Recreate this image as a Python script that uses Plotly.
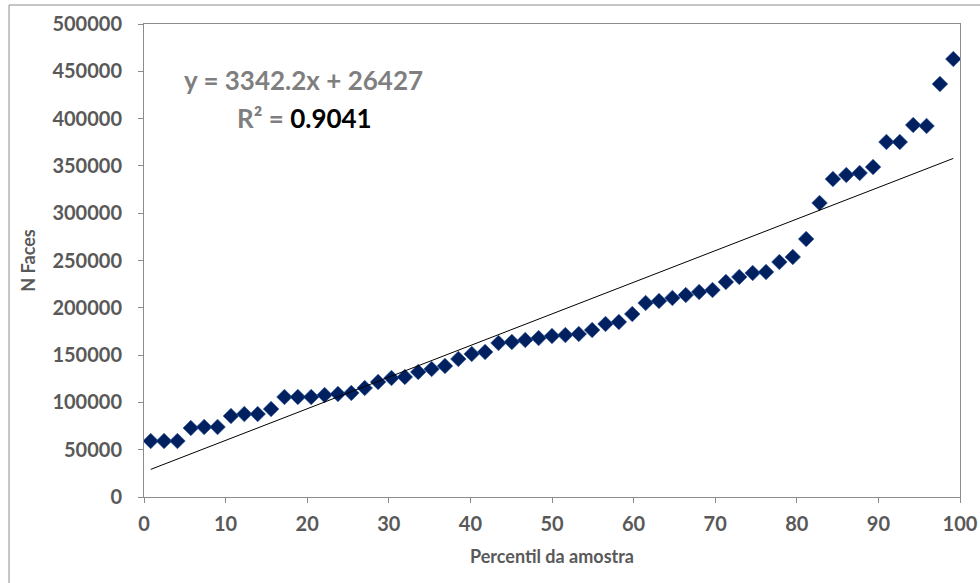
import numpy as np
import plotly.graph_objects as go

# Sample percentiles (61 ordered samples) and face counts
n_samples = 61
percentil = [(i + 0.5) / n_samples * 100 for i in range(n_samples)]
n_faces = [
    59200, 59200, 59200, 72900, 74000, 74000, 85600, 87700, 87700, 93000,
    105700, 105700, 105700, 107800, 108900, 110000, 115200, 121600, 125800, 126900,
    132100, 135300, 138500, 145900, 151200, 153300, 162800, 163900, 166000, 168000,
    170200, 171200, 172300, 176500, 182900, 185000, 193400, 205100, 207200, 210400,
    213500, 216700, 218800, 227300, 232600, 236800, 237800, 248400, 253700, 272700,
    310800, 336100, 340400, 342500, 348800, 375300, 375300, 393200, 392200, 436600,
    463000,
]

# Linear trend shown on the chart
slope = 3342.2
intercept = 26427
r_squared = 0.9041

x_ticks = list(range(0, 101, 10))
y_ticks = list(range(0, 500001, 50000))

FONT = "Lato"
GRAY = "#595959"
AXIS_GRAY = "#8c8c8c"

trend_x = [percentil[0], percentil[-1]]
trend_y = [slope * v + intercept for v in trend_x]

fig = go.Figure()
fig.add_trace(go.Scatter(
    x=percentil, y=n_faces, mode="markers",
    marker=dict(symbol="diamond", size=12, color="#002060",
                line=dict(width=0.6, color="#2a4f95")),
    showlegend=False, hoverinfo="x+y",
))
fig.add_trace(go.Scatter(
    x=trend_x, y=trend_y, mode="lines",
    line=dict(color="#000000", width=1),
    showlegend=False, hoverinfo="skip",
))

axis_common = dict(
    showgrid=False, zeroline=False, showline=True, linecolor=AXIS_GRAY,
    linewidth=1, mirror=True, ticks="outside", ticklen=5, tickcolor=AXIS_GRAY,
    automargin=False,
    tickfont=dict(family=FONT, size=20, color=GRAY, weight="bold"),
    title_font=dict(family=FONT, size=18, color=GRAY, weight="bold"),
)

fig.update_xaxes(
    range=[0, 100], tickvals=x_ticks, ticktext=[str(t) for t in x_ticks],
    ticklabelstandoff=4,
    title_text="Percentil da amostra", title_standoff=16, **axis_common,
)
fig.update_yaxes(
    range=[0, 500000], tickvals=y_ticks, ticktext=[str(t) for t in y_ticks],
    ticklabelstandoff=12,
    title_text="N Faces", title_standoff=12, **axis_common,
)

fig.add_annotation(
    xref="paper", yref="paper", x=0.196, y=0.8816,
    text="y = 3342.2x + 26427", showarrow=False,
    font=dict(family=FONT, size=26, color="#7f7f7f", weight="bold"),
    xanchor="center", yanchor="middle",
)
fig.add_annotation(
    xref="paper", yref="paper", x=0.197, y=0.8013,
    text=f"R² = <span style='color:#000000'>{r_squared:.4f}</span>",
    showarrow=False,
    font=dict(family=FONT, size=26, color="#7f7f7f", weight="bold"),
    xanchor="center", yanchor="middle",
)

# Chart-area border (top and left edges)
fig.add_shape(type="line", xref="paper", yref="paper",
              x0=-0.1654, x1=1.03, y0=1.0402, y1=1.0402,
              line=dict(color="#8c8c8c", width=1))
fig.add_shape(type="line", xref="paper", yref="paper",
              x0=-0.1654, x1=-0.1654, y0=1.0402, y1=-0.19,
              line=dict(color="#8c8c8c", width=1))

fig.update_layout(
    width=980, height=583,
    margin=dict(l=144, r=20, t=24, b=86),
    paper_bgcolor="white", plot_bgcolor="white",
    font=dict(family=FONT),
)

fig.write_html("out.html")
